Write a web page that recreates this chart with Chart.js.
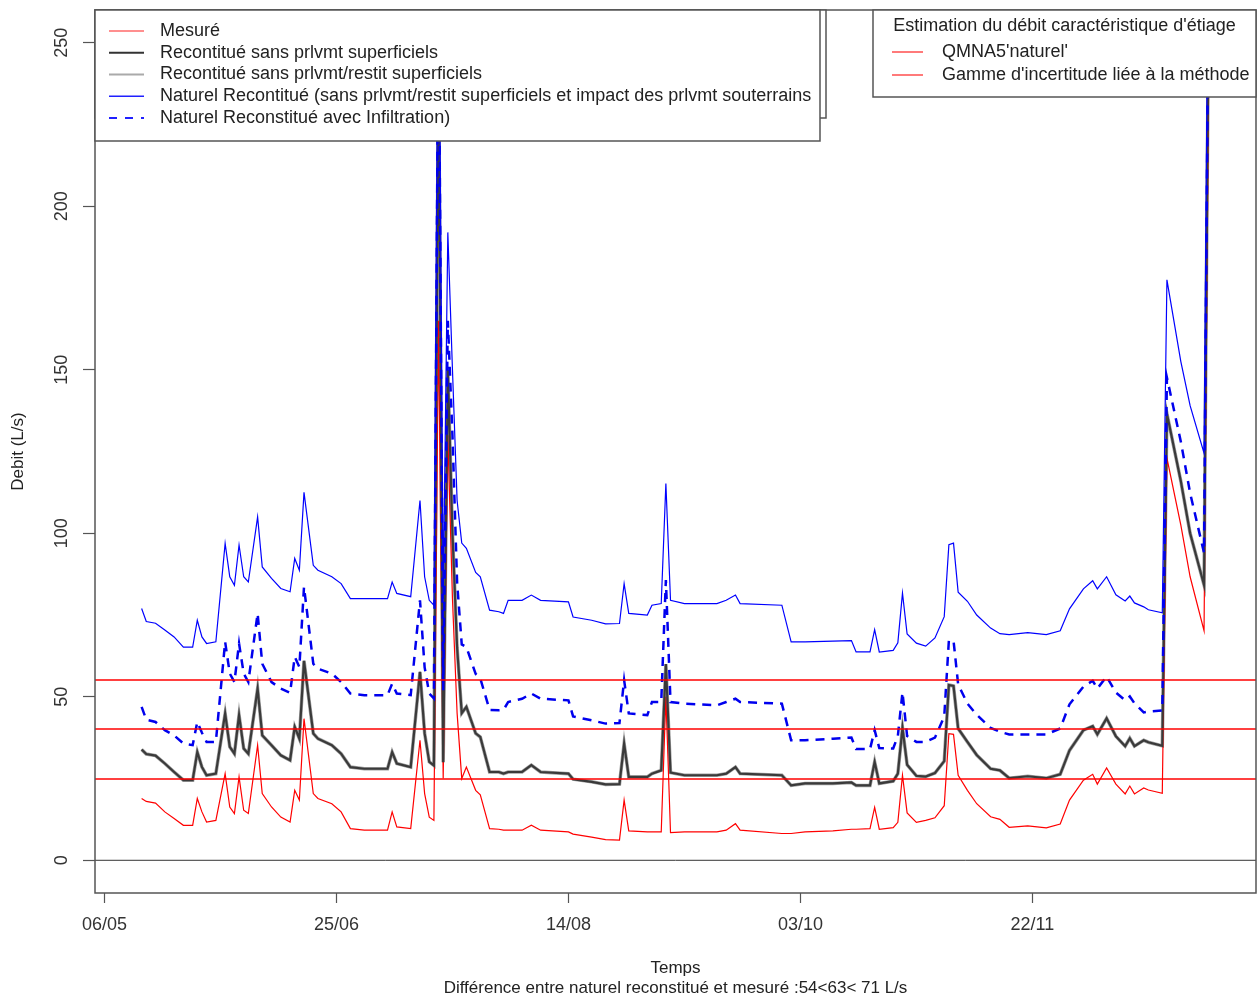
<!DOCTYPE html>
<html lang="fr">
<head>
<meta charset="utf-8">
<title>Débit d'étiage</title>
<script src="https://cdn.jsdelivr.net/npm/chart.js@4.4.1/dist/chart.umd.min.js"></script>
<style>
  html, body { margin: 0; padding: 0; background: #fff; }
  canvas { display: block; }
</style>
</head>
<body>
<canvas id="debit" width="1258" height="1003"></canvas>
<script>
// jours comptés depuis le 06/05
const jours = [8, 9, 11, 13, 15, 17, 19, 20, 21, 22, 24, 26, 27, 28, 29, 30, 31, 33, 34, 36,
  38, 40, 41, 42, 43, 45, 46, 49, 51, 53, 56, 61, 62, 63, 66, 68, 69, 70, 71, 72,
  73, 74, 75, 76, 77, 78, 80, 81, 83, 85, 86, 87, 90, 92, 94, 100, 101, 105, 108, 111,
  112, 113, 117, 118, 120, 121, 122, 125, 132, 134, 136, 137, 146, 148, 151, 157, 161, 162, 165, 166,
  167, 170, 171, 172, 173, 175, 177, 179, 181, 182, 183, 184, 186, 188, 191, 193, 195, 199, 203, 206,
  208, 211, 213, 214, 216, 218, 220, 221, 222, 224, 225, 228, 229, 232, 234, 237, 238];

// débits en L/s
const mesure = [18.9, 18.0, 17.5, 14.8, 12.8, 10.7, 10.7, 18.9, 14.8, 11.7, 12.2, 26.5, 16.3, 14.3, 25.5, 15.3, 14.3, 35.2, 20.4, 16.3,
  13.2, 11.7, 21.4, 18.4, 43.3, 20.4, 18.9, 17.3, 14.8, 9.7, 9.2, 9.2, 14.8, 10.2, 9.7, 36.7, 20.4, 13.2, 12.2, 165,
  25, 130, 80, 45, 25, 28.5, 21.4, 20.0, 9.7, 9.5, 9.2, 9.2, 9.2, 10.7, 9.2, 8.7, 8.0, 7.1, 6.3, 6.2,
  18.4, 9.0, 8.7, 8.7, 8.7, 50.0, 8.5, 8.7, 8.7, 9.2, 11.2, 9.2, 8.2, 8.2, 8.7, 9.0, 9.5, 9.5, 9.7, 16.2,
  9.5, 10.0, 11.6, 26.0, 14.5, 11.6, 12.2, 13.0, 16.7, 38.7, 38.5, 26.0, 21.4, 17.3, 13.3, 12.5, 10.1, 10.5, 9.9, 11.1,
  18.4, 24.5, 26.3, 23.3, 28.2, 23.3, 20.3, 22.7, 20.3, 22.1, 21.5, 20.5, 123.0, 102.5, 86.7, 70.2, 240];

const reconstitue = [33.9, 32.5, 32.0, 29.6, 27.0, 24.5, 24.5, 33.1, 28.5, 26.0, 26.5, 44.9, 34.7, 32.6, 44.4, 34.2, 32.6, 52.5, 38.2, 35.2,
  32.1, 30.6, 40.8, 37.2, 61.0, 38.8, 37.2, 35.2, 32.6, 28.5, 28.0, 28.0, 33.1, 29.6, 28.5, 57.6, 38.8, 30.1, 29.0, 245,
  30, 150, 100, 65, 45, 46.9, 38.8, 37.7, 27.0, 27.0, 26.5, 27.0, 27.0, 29.1, 27.0, 26.5, 24.8, 24.0, 23.2, 23.3,
  35.7, 25.5, 25.5, 26.5, 27.5, 60.0, 26.8, 26.0, 26.0, 26.5, 28.5, 26.5, 26.0, 22.9, 23.5, 23.5, 23.8, 22.9, 22.9, 30.1,
  23.5, 24.2, 26.5, 40.5, 29.2, 25.8, 25.6, 26.7, 30.3, 53.6, 53.3, 40.3, 36.2, 32.2, 28.0, 27.5, 25.1, 25.7, 25.1, 26.3,
  33.6, 39.8, 41.0, 38.5, 43.4, 37.9, 34.9, 37.3, 34.9, 36.7, 36.1, 35.0, 136.6, 115.9, 100.0, 84.2, 265];

const naturel = [77.0, 73.0, 72.5, 70.4, 68.3, 65.2, 65.2, 73.4, 68.3, 66.3, 66.8, 96.9, 86.7, 84.1, 96.4, 86.7, 85.1, 105.0, 89.7, 86.2,
  83.1, 82.1, 92.3, 88.7, 112.5, 90.2, 88.7, 86.7, 84.6, 80.0, 80.0, 80.0, 85.1, 81.6, 80.6, 110.0, 86.7, 79.5, 78.0, 290,
  80, 192, 150, 110, 97, 95.4, 88.0, 86.7, 76.5, 76.0, 75.5, 79.5, 79.5, 81.1, 79.5, 79.0, 74.4, 73.4, 72.3, 72.4,
  84.6, 75.5, 75.0, 78.0, 78.5, 115.2, 79.5, 78.5, 78.5, 79.5, 81.1, 78.5, 78.0, 66.8, 66.8, 67.0, 67.2, 63.7, 63.7, 70.5,
  63.7, 64.2, 66.5, 81.7, 69.2, 66.4, 65.5, 68.0, 74.5, 96.5, 97.0, 82.0, 79.2, 75.0, 71.0, 69.3, 69.0, 69.6, 69.0, 70.2,
  76.9, 83.0, 85.5, 83.0, 86.7, 81.2, 79.3, 80.8, 78.7, 77.5, 76.6, 75.7, 177.5, 152.5, 139.0, 124.5, 300];

const naturelInfiltration = [46.9, 43.0, 42.3, 39.8, 38.2, 35.7, 35.2, 42.3, 39.0, 36.2, 36.2, 66.8, 57.1, 54.5, 66.3, 57.1, 54.5, 75.5, 60.1, 54.5,
  52.5, 51.2, 62.2, 59.1, 83.6, 60.1, 58.6, 57.1, 54.5, 51.0, 50.5, 50.5, 54.0, 51.0, 50.5, 79.5, 59.0, 51.0, 49.5, 270,
  52, 165, 130, 85, 66, 65.2, 57.0, 55.6, 46.0, 45.9, 46.0, 48.4, 49.4, 51.0, 49.4, 48.9, 44.0, 42.8, 41.8, 42.0,
  55.1, 44.9, 44.4, 48.4, 48.4, 85.7, 48.4, 47.9, 47.4, 48.4, 49.4, 48.4, 47.9, 36.7, 36.7, 37.2, 37.5, 34.0, 34.0, 39.8,
  34.3, 34.2, 38.0, 51.4, 38.0, 36.2, 36.2, 37.5, 44.0, 67.2, 67.2, 53.8, 47.9, 44.5, 40.5, 39.3, 38.5, 38.5, 38.5, 40.3,
  47.7, 53.1, 54.9, 52.5, 56.2, 51.3, 48.9, 50.1, 48.0, 45.2, 45.5, 45.8, 147.6, 128.0, 112.3, 94.0, 275];

// QMNA5 'naturel' et bornes de la gamme d'incertitude
const seuilsEtiage = [25, 40, 55];

const joursGraduation = [0, 50, 100, 150, 200];
const etiquettesDates = ['06/05', '25/06', '14/08', '03/10', '22/11'];
const graduationsDebit = [0, 50, 100, 150, 200, 250];

const lignesLegende = [
  { texte: 'Mesuré', couleur: '#ff2020', epaisseur: 1.2 },
  { texte: 'Recontitué sans prlvmt superficiels', couleur: '#333333', epaisseur: 2 },
  { texte: 'Recontitué sans prlvmt/restit superficiels', couleur: '#aaaaaa', epaisseur: 2 },
  { texte: 'Naturel Recontitué (sans prlvmt/restit superficiels et impact des prlvmt souterrains', couleur: '#2020ff', epaisseur: 1.5 },
  { texte: 'Naturel Reconstitué avec Infiltration)', couleur: '#2020ff', epaisseur: 2, tirets: [8, 8] }
];
const titreEtiage = "Estimation du débit caractéristique d'étiage";
const lignesEtiage = [
  { texte: "QMNA5'naturel'", couleur: '#ff2020', epaisseur: 1.2 },
  { texte: "Gamme d'incertitude liée à la méthode", couleur: '#ff2020', epaisseur: 1.2 }
];

const X_MIN = -2.05, X_MAX = 248.2;
const Y_MIN = -10, Y_MAX = 260;
const POLICE = '"Liberation Sans", Arial, sans-serif';

function serie(valeurs) {
  return jours.map((j, i) => ({ x: j, y: valeurs[i] }));
}

function horizontale(v) {
  return [{ x: X_MIN, y: v }, { x: X_MAX, y: v }];
}

function boite(ctx, x0, y0, x1, y1) {
  ctx.fillStyle = '#fff';
  ctx.fillRect(x0, y0, x1 - x0, y1 - y0);
  ctx.strokeStyle = '#555';
  ctx.lineWidth = 1.5;
  ctx.setLineDash([]);
  ctx.strokeRect(x0, y0, x1 - x0, y1 - y0);
}

function echantillon(ctx, x0, x1, y, ligne, xTexte) {
  ctx.strokeStyle = ligne.couleur;
  ctx.lineWidth = ligne.epaisseur;
  ctx.setLineDash(ligne.tirets || []);
  ctx.beginPath();
  ctx.moveTo(x0, y);
  ctx.lineTo(x1, y);
  ctx.stroke();
  ctx.setLineDash([]);
  ctx.fillStyle = '#222';
  ctx.textAlign = 'left';
  ctx.fillText(ligne.texte, xTexte, y);
}

// seuils d'étiage, cadre du tracé et les deux légendes posées dans la zone de tracé
const cadreEtLegendes = {
  id: 'cadreEtLegendes',
  afterDraw(chart) {
    const { ctx, chartArea: a } = chart;
    const echelleY = chart.scales.y;
    ctx.save();

    // traits calés sur deux lignes de pixels pour rester bien rouges
    ctx.strokeStyle = '#ff0000';
    ctx.lineWidth = 1.6;
    ctx.setLineDash([]);
    seuilsEtiage.forEach(v => {
      const py = Math.round(echelleY.getPixelForValue(v));
      ctx.beginPath();
      ctx.moveTo(a.left, py);
      ctx.lineTo(a.right, py);
      ctx.stroke();
    });

    ctx.strokeStyle = '#555';
    ctx.lineWidth = 1.5;
    ctx.strokeRect(a.left, a.top, a.right - a.left, a.bottom - a.top);

    ctx.font = '18px ' + POLICE;
    ctx.textBaseline = 'middle';

    // la légende de gauche a été tracée deux fois : le premier cadre dépasse à droite
    boite(ctx, a.left, a.top, 826, 118);
    boite(ctx, a.left, a.top, 820, 141);
    lignesLegende.forEach((l, i) => echantillon(ctx, 109, 144, 31 + i * 21.75, l, 160));

    boite(ctx, 873, a.top, a.right, 97);
    ctx.fillStyle = '#222';
    ctx.textAlign = 'center';
    ctx.fillText(titreEtiage, (873 + a.right) / 2, 26);
    lignesEtiage.forEach((l, i) => echantillon(ctx, 892, 923, 52 + i * 23, l, 942));
    ctx.restore();
  }
};

Chart.defaults.font.family = POLICE;
Chart.defaults.font.size = 18;
Chart.defaults.color = '#333';

new Chart(document.getElementById('debit'), {
  type: 'line',
  data: {
    datasets: [
      { label: 'Recontitué sans prlvmt/restit superficiels', data: serie(reconstitue), borderColor: '#a0a0a0', borderWidth: 3.5, order: 8 },
      { label: 'Mesuré', data: serie(mesure), borderColor: '#ff0000', borderWidth: 1.2, order: 7 },
      { label: 'Recontitué sans prlvmt superficiels', data: serie(reconstitue), borderColor: '#3a3a3a', borderWidth: 2.2, order: 6 },
      { label: 'Naturel Recontitué', data: serie(naturel), borderColor: '#0000ff', borderWidth: 1.2, order: 5 },
      { label: 'Naturel Reconstitué avec Infiltration', data: serie(naturelInfiltration), borderColor: '#0000ee', borderWidth: 2.5, borderDash: [9, 7], order: 4 },
      { label: 'zéro', data: horizontale(0), borderColor: '#333', borderWidth: 1, order: 3 }
    ]
  },
  options: {
    responsive: false,
    animation: false,
    events: [],
    layout: { padding: { top: 10, right: 2, left: 0, bottom: 0 } },
    elements: {
      point: { radius: 0 },
      line: { tension: 0, fill: false }
    },
    plugins: {
      legend: { display: false },
      tooltip: { enabled: false }
    },
    scales: {
      x: {
        type: 'linear',
        min: X_MIN,
        max: X_MAX,
        afterBuildTicks: s => { s.ticks = joursGraduation.map(v => ({ value: v })); },
        afterFit: s => { s.height = 110; s.paddingLeft = 0; s.paddingRight = 0; },
        ticks: {
          autoSkip: false,
          maxRotation: 0,
          padding: 11,
          color: '#333',
          callback: (v, i) => etiquettesDates[i]
        },
        grid: { drawOnChartArea: false, tickLength: 10, color: '#555', tickWidth: 1.2 },
        border: { display: false },
        title: {
          display: true,
          text: ['Temps', 'Différence entre naturel reconstitué et mesuré :54<63< 71 L/s'],
          color: '#222',
          font: { size: 17, lineHeight: '20px' },
          padding: { top: 0, bottom: 5 }
        }
      },
      y: {
        type: 'linear',
        min: Y_MIN,
        max: Y_MAX,
        afterBuildTicks: s => { s.ticks = graduationsDebit.map(v => ({ value: v })); },
        afterFit: s => { s.width = 95; s.paddingTop = 0; s.paddingBottom = 0; },
        ticks: {
          minRotation: 90,
          maxRotation: 90,
          crossAlign: 'center',
          padding: 6,
          color: '#333'
        },
        grid: { drawOnChartArea: false, tickLength: 12, color: '#555', tickWidth: 1.2 },
        border: { display: false },
        title: {
          display: true,
          text: 'Debit (L/s)',
          color: '#222',
          font: { size: 17, lineHeight: '20px' },
          padding: { top: 8, bottom: 0 }
        }
      }
    }
  },
  plugins: [cadreEtLegendes]
});
</script>
</body>
</html>
